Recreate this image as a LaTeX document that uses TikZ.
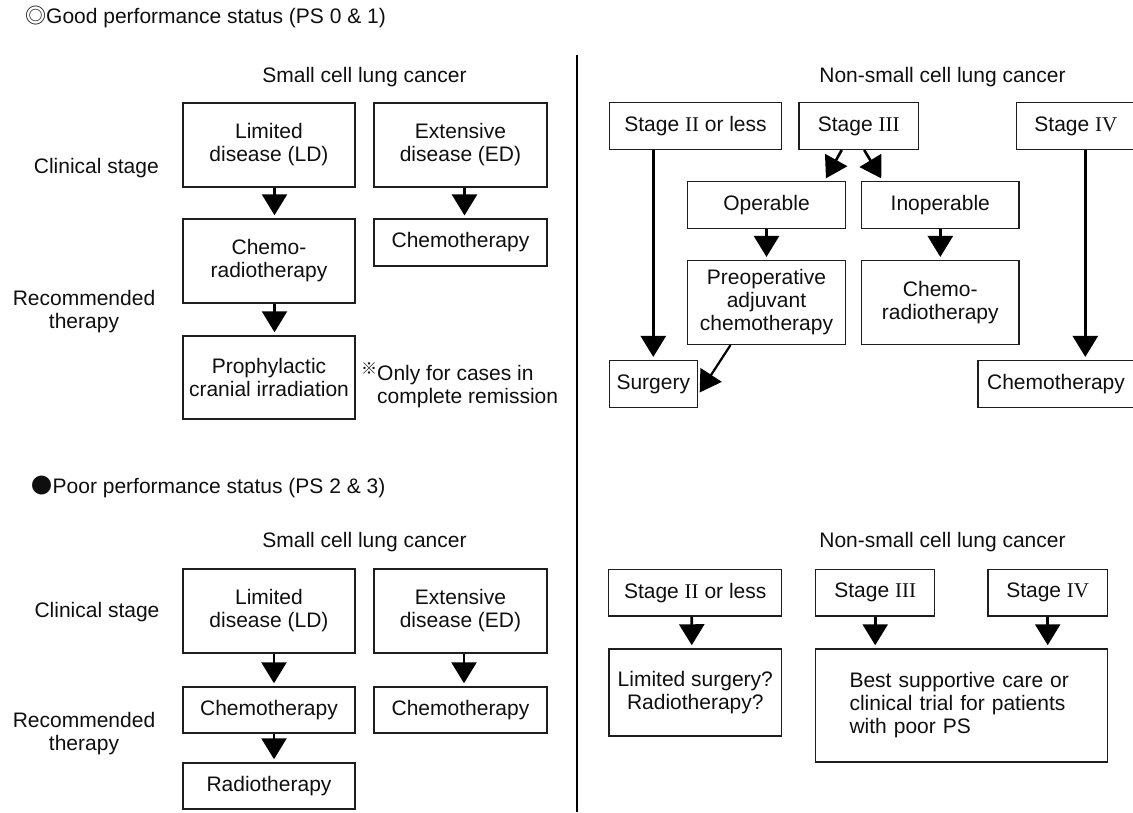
\documentclass[tikz,border=0pt]{standalone}
\usepackage{fontspec}
\setmainfont{Liberation Sans}
\newfontfamily\romfont{Liberation Serif}
\newfontfamily\cjk{Noto Sans CJK JP}
\usepackage{tikz}
\usetikzlibrary{arrows.meta}
\definecolor{ink}{RGB}{15,15,15}
\definecolor{frame}{RGB}{30,30,30}

\begin{document}
\begin{tikzpicture}[x=1pt,y=1pt,yscale=-1,xscale=1,
  every node/.style={font=\fontsize{21}{23}\selectfont, text=ink, inner sep=0pt},
  box/.style={draw=frame, line width=1.5pt, align=center, minimum height=46.6pt},
  tall/.style={box, minimum height=84pt},
  arr/.style={draw=black, line width=2.6pt, -{Triangle[width=25pt,length=21pt]}, shorten >=3pt}]
\useasboundingbox (0,0) rectangle (1133,812);

% Text Node
\node[anchor=west] (good) at (25,16.7) {{\cjk ◎}Good performance status (PS 0 \& 1)};
% Text Node
\node[anchor=west] (poor) at (31.5,486.7) {{\cjk ●}Poor performance status (PS 2 \& 3)};
%Straight Lines
\draw [line width=2.6pt] (577,55) -- (577,812);

% Text Node
\node (sclc1) at (364.5,76.7) {Small cell lung cancer};
% Text Node
\node (nsclc1) at (942.5,76.7) {Non-small cell lung cancer};
% Text Node
\node (sclc2) at (364.5,541.7) {Small cell lung cancer};
% Text Node
\node (nsclc2) at (942.5,541.7) {Non-small cell lung cancer};
% Text Node
\node (cs1) at (96.3,168.3) {Clinical stage};
% Text Node
\node[align=center] (rt1) at (84,311.3) {Recommended\\therapy};
% Text Node
\node (cs2) at (97,612.3) {Clinical stage};
% Text Node
\node[align=center] (rt2) at (84,733.3) {Recommended\\therapy};

%Shape: Rectangle
\node[tall, minimum width=172pt] (ld1) at (269,145) {Limited\\disease (LD)};
\node[tall, minimum width=173pt] (ed1) at (460.5,145) {Extensive\\disease (ED)};
\node[tall, minimum width=172pt] (crt1) at (269,261) {Chemo-\\radiotherapy};
\node[box, minimum width=173pt] (edch1) at (460.5,242.5) {Chemotherapy};
\node[tall, minimum width=172pt, minimum height=83pt] (pci) at (269,377.5) {Prophylactic\\cranial irradiation};
% Text Node
\node[anchor=west, align=left] (note) at (377,385) {\llap{\raisebox{6pt}{\cjk\fontsize{16}{16}\selectfont ※}}Only for cases in\\complete remission};
%Straight Lines
\draw[arr] ([xshift=5.5]ld1.south) -- ([xshift=5.5]crt1.north);
\draw[arr] ([xshift=5.5]crt1.south) -- ([xshift=5.5]pci.north);
\draw[arr] ([xshift=4]ed1.south) -- ([xshift=4]edch1.north);

%Shape: Rectangle
\node[box, minimum width=172.4pt] (s2a) at (695.5,126) {Stage {\romfont II} or less};
\node[box, minimum width=119.3pt] (s3a) at (858.7,126) {Stage {\romfont III}};
\node[box, minimum width=119.3pt] (s4a) at (1075.9,126) {Stage {\romfont IV}};
\node[box, minimum width=158.4pt] (op) at (766.5,205) {Operable};
\node[box, minimum width=157.3pt] (inop) at (940.3,205) {Inoperable};
\node[tall, minimum width=158.4pt, minimum height=83.6pt] (preop) at (766.5,302.5) {Preoperative\\adjuvant\\chemotherapy};
\node[tall, minimum width=157.3pt, minimum height=83.6pt] (crt2) at (940.3,302.5) {Chemo-\\radiotherapy};
\node[box, minimum width=88pt] (surg) at (653.3,384) {Surgery};
\node[box, minimum width=156pt] (ch4a) at (1056,384) {Chemotherapy};
%Straight Lines
\draw[arr] (surg.north |- s2a.south) -- (surg.north);
\draw[arr] ([xshift=-17]s3a.south) -- ([xshift=58]op.north);
\draw[arr] ([xshift=5.5]s3a.south) -- ([xshift=-57.5]inop.north);
\draw[arr] (op.south) -- (preop.north);
\draw[arr] (inop.south) -- (crt2.north);
\draw[arr] ([xshift=9.4]s4a.south) -- ([xshift=9.4]s4a.south |- ch4a.north);
\draw[arr, line width=2.2pt] ([xshift=-36]preop.south) -- ([yshift=11]surg.east);

%Shape: Rectangle
\node[tall, minimum width=172pt] (ld2) at (269,611) {Limited\\disease (LD)};
\node[tall, minimum width=173pt] (ed2) at (460.5,611) {Extensive\\disease (ED)};
\node[box, minimum width=172pt, minimum height=46pt] (ch2a) at (269,710) {Chemotherapy};
\node[box, minimum width=173pt, minimum height=46pt] (ch2b) at (460.5,710) {Chemotherapy};
\node[box, minimum width=172pt, minimum height=46pt] (rt2b) at (269,786) {Radiotherapy};
%Straight Lines
\draw[arr] ([xshift=5]ld2.south) -- ([xshift=5]ch2a.north);
\draw[arr] ([xshift=5]ch2a.south) -- ([xshift=5]rt2b.north);
\draw[arr] ([xshift=3.5]ed2.south) -- ([xshift=3.5]ch2b.north);

%Shape: Rectangle
\node[box, minimum width=173pt] (s2b) at (695.2,592.6) {Stage {\romfont II} or less};
\node[box, minimum width=119pt] (s3b) at (875.2,592.6) {Stage {\romfont III}};
\node[box, minimum width=119.3pt] (s4b) at (1047.7,592.6) {Stage {\romfont IV}};
\node[box, minimum width=172.7pt, minimum height=87pt] (lsr) at (695.3,692.5) {Limited surgery?\\Radiotherapy?};
\node[box, minimum width=291.6pt, minimum height=113pt, text width=224pt, align=left] (bsc) at (961.5,705.5) {Best supportive care or\\clinical trial for patients\\with poor PS};
%Straight Lines
\draw[arr] ([xshift=-3.5]s2b.south) -- ([xshift=-3.5]lsr.north);
\draw[arr] (s3b.south) -- (s3b.south |- bsc.north);
\draw[arr] (s4b.south) -- (s4b.south |- bsc.north);
\end{tikzpicture}
\end{document}
